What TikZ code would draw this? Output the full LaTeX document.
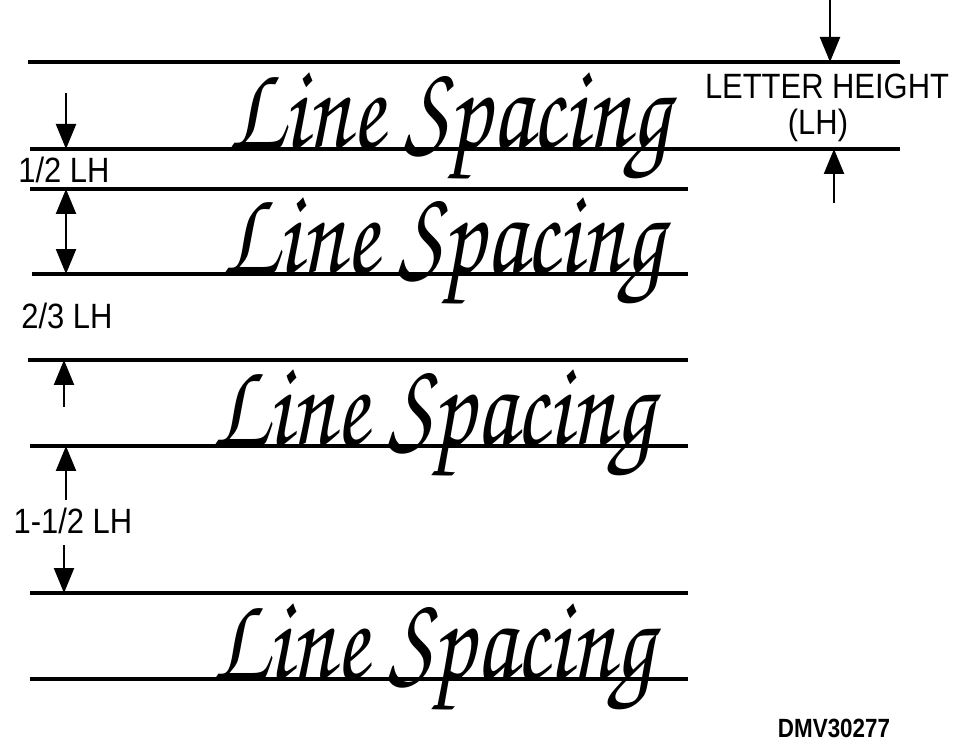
\documentclass[tikz,border=0pt]{standalone}
\usepackage[T1]{fontenc}
\usepackage{fontspec}
\setmainfont{Liberation Sans}
\usetikzlibrary{arrows.meta, positioning}
\newcommand{\handface}{\fontencoding{T1}\fontfamily{pzc}\fontseries{mb}\fontshape{it}\selectfont}

\begin{document}
\begin{tikzpicture}[x=0.02cm, y=-0.02cm,
  rule/.style={line width=2pt, black},
  arr/.style={-{Triangle[length=5mm, width=4mm]}, line width=1.3pt},
  dbl/.style={{Triangle[length=5mm, width=4mm]}-{Triangle[length=5mm, width=4mm]}, line width=1.3pt},
  sample/.style={anchor=base west, inner sep=0pt, xscale=0.78, font=\handface\fontsize{70}{70}\selectfont},
  lbl/.style={inner sep=0pt, xscale=0.88, font=\fontsize{20}{20}\selectfont},
  code/.style={inner sep=0pt, xscale=0.85, font=\bfseries\fontsize{15}{15}\selectfont}
]
\useasboundingbox (0,0) rectangle (980,749);

% guide lines
\coordinate (g1w) at (28,62);  \coordinate (g1e) at (900,62);
\coordinate (g2w) at (30,149); \coordinate (g2e) at (900,149);
\coordinate (g3w) at (30,189); \coordinate (g3e) at (688,189);
\coordinate (g4w) at (32,274); \coordinate (g4e) at (688,274);
\coordinate (g5w) at (28,360); \coordinate (g5e) at (688,360);
\coordinate (g6w) at (30,446); \coordinate (g6e) at (688,446);
\coordinate (g7w) at (30,593); \coordinate (g7e) at (688,593);
\coordinate (g8w) at (30,679); \coordinate (g8e) at (688,679);
\draw[rule] (g1w) -- (g1e);
\draw[rule] (g2w) -- (g2e);
\draw[rule] (g3w) -- (g3e);
\draw[rule] (g4w) -- (g4e);
\draw[rule] (g5w) -- (g5e);
\draw[rule] (g6w) -- (g6e);
\draw[rule] (g7w) -- (g7e);
\draw[rule] (g8w) -- (g8e);

% samples
\node[sample] (s1) at (228,149) {Line Spacing};
\node[sample] (s2) at (222,274) {Line Spacing};
\node[sample] (s3) at (212,446) {Line Spacing};
\node[sample] (s4) at (212,679) {Line Spacing};

% letter height
\node[lbl] (lh) at (827,86) {LETTER HEIGHT};
\node[lbl] (lhabbr) at (818,125) {(LH)};
\coordinate (lhtop) at (830,0);
\coordinate (lhbot) at (834,203);
\draw[arr] (lhtop) -- (lhtop |- g1e);
\draw[arr] (lhbot) -- (lhbot |- g2e);

% spacings
\node[lbl] (half) at (64,170) {1/2 LH};
\node[lbl] (twothird) at (67,316) {2/3 LH};
\node[lbl] (oneandhalf) at (73,521) {1-1/2 LH};
\coordinate (halftop) at (66,93);
\coordinate (dblx) at (66,0);
\coordinate (twothirdbot) at (64,407);
\coordinate (ohtop) at (66,500);
\coordinate (ohbot) at (64,545);
\draw[arr] (halftop) -- (halftop |- g2e);
\draw[dbl] (dblx |- g3e) -- (dblx |- g4e);
\draw[arr] (twothirdbot) -- (twothirdbot |- g5e);
\draw[arr] (ohtop) -- (ohtop |- g6e);
\draw[arr] (ohbot) -- (ohbot |- g7e);

\node[code] (fig) at (834,728) {DMV30277};
\end{tikzpicture}
\end{document}
